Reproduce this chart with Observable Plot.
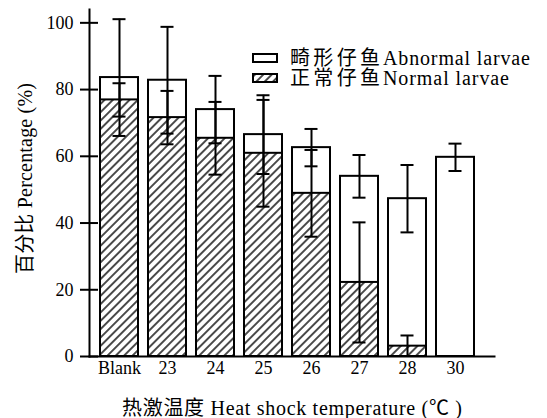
<!DOCTYPE html>
<html><head><meta charset="utf-8">
<script src="https://cdn.jsdelivr.net/npm/d3@7"></script>
<script src="https://cdn.jsdelivr.net/npm/@observablehq/plot@0.6"></script>
<style>
body{margin:0;background:#fff}
</style>
</head><body><div id="chart"></div>
<script>
const categories = ["Blank", "23", "24", "25", "26", "27", "28", "30"];
const totalValues = [83.6, 82.8, 74.0, 66.5, 62.6, 54.0, 47.3, 59.7];
const totalErrors = [17.5, 16.0, 10.1, 11.8, 5.6, 6.4, 10.1, 4.1];
const normalValues = [76.9, 71.6, 65.4, 60.9, 48.9, 22.2, 3.1, 0];
const normalErrors = [5.0, 8.0, 10.9, 16.0, 13.0, 18.0, 3.2, 0];
const yTicks = [0, 20, 40, 60, 80, 100];
const legendLabels = [
  {zh: "畸形仔鱼", en: "Abnormal larvae", enLen: 147, fill: "white"},
  {zh: "正常仔鱼", en: "Normal larvae", enLen: 126, fill: "url(#hatch)"}
];
const xTitle = "热激温度 Heat shock temperature (℃ )";
const yTitle = "百分比 Percentage (%)";

const data = categories.map((c, i) => ({
  cat: c,
  total: totalValues[i], totalErr: totalErrors[i],
  normal: normalValues[i], normalErr: normalErrors[i]
}));
const normalData = data.filter(d => d.normal > 0);

const FONT = '"Liberation Serif", "Times New Roman", "Noto Sans CJK SC", serif';
const capInset = 12.5;

const chart = Plot.plot({
  width: 547,
  height: 418,
  marginLeft: 89,
  marginRight: 53,
  marginTop: 9,
  marginBottom: 62,
  style: {fontFamily: FONT, fontSize: "18px", color: "black", background: "white"},
  x: {domain: categories, paddingInner: 0.2, paddingOuter: 0.25, align: 0.37, label: null},
  y: {domain: [0, 104], label: null},
  marks: [
    Plot.barY(data, {x: "cat", y1: 0, y2: "total", fill: "white", stroke: "black", strokeWidth: 2}),
    Plot.barY(normalData, {x: "cat", y1: 0, y2: "normal", fill: "url(#hatch)", stroke: "black", strokeWidth: 2}),
    Plot.ruleX(data, {x: "cat", y1: d => d.total - d.totalErr, y2: d => d.total + d.totalErr, strokeWidth: 2}),
    Plot.tickY(data, {x: "cat", y: d => d.total + d.totalErr, insetLeft: capInset, insetRight: capInset, strokeWidth: 2}),
    Plot.tickY(data, {x: "cat", y: d => d.total - d.totalErr, insetLeft: capInset, insetRight: capInset, strokeWidth: 2}),
    Plot.ruleX(normalData, {x: "cat", y1: d => Math.max(0, d.normal - d.normalErr), y2: d => d.normal + d.normalErr, strokeWidth: 2}),
    Plot.tickY(normalData, {x: "cat", y: d => d.normal + d.normalErr, insetLeft: capInset, insetRight: capInset, strokeWidth: 2}),
    Plot.tickY(normalData.filter(d => d.normal - d.normalErr > 0), {x: "cat", y: d => d.normal - d.normalErr, insetLeft: capInset, insetRight: capInset, strokeWidth: 2}),
    Plot.frame({anchor: "left", strokeWidth: 2}),
    Plot.frame({anchor: "bottom", strokeWidth: 2}),
    Plot.axisY({ticks: yTicks, tickSize: 0, tickPadding: 16, fontSize: 18, fontFamily: FONT}),
    Plot.axisY({ticks: yTicks, tickSize: 18, dx: 9, strokeWidth: 2, tickFormat: () => ""}),
    Plot.axisX({tickSize: 0, tickPadding: 5, fontSize: 18, fontFamily: FONT}),
    Plot.text([xTitle], {frameAnchor: "bottom", dy: 52, fontSize: 20, textAnchor: "middle", lineAnchor: "middle", fontFamily: FONT}),
    Plot.text([yTitle], {frameAnchor: "left", rotate: -90, dx: -64, dy: -4.5, fontSize: 20, textAnchor: "middle", lineAnchor: "middle", fontFamily: FONT})
  ]
});

const svg = d3.select(chart);
const defs = svg.insert("defs", ":first-child");
const P = 5.9;
const pat = defs.append("pattern").attr("id", "hatch").attr("patternUnits", "userSpaceOnUse")
  .attr("width", P).attr("height", P).attr("patternTransform", "rotate(45)");
pat.append("rect").attr("width", P).attr("height", P).attr("fill", "white");
pat.append("line").attr("x1", P / 2).attr("y1", -1).attr("x2", P / 2).attr("y2", P + 1)
  .attr("stroke", "black").attr("stroke-width", 1.4);

svg.selectAll("text").each(function() {
  if (this.textContent === xTitle) { this.setAttribute("textLength", 340); this.setAttribute("lengthAdjust", "spacing"); }
  if (this.textContent === yTitle) { this.setAttribute("textLength", 191); this.setAttribute("lengthAdjust", "spacing"); }
});

const lg = svg.append("g").attr("font-family", FONT).attr("font-size", 20).attr("text-anchor", "start");
legendLabels.forEach((l, i) => {
  const y = 54 + i * 20;
  lg.append("rect").attr("x", 253).attr("y", y).attr("width", 24).attr("height", 8)
    .attr("fill", l.fill).attr("stroke", "black").attr("stroke-width", 2);
  lg.append("text").attr("x", 290).attr("y", y + 4).attr("dy", "0.35em").attr("text-anchor", "start")
    .attr("textLength", 90).attr("lengthAdjust", "spacing").text(l.zh);
  lg.append("text").attr("x", 383).attr("y", y + 4).attr("dy", "0.35em").attr("text-anchor", "start")
    .attr("textLength", l.enLen).attr("lengthAdjust", "spacing").text(l.en);
});

document.getElementById("chart").appendChild(chart);
</script>
</body></html>
